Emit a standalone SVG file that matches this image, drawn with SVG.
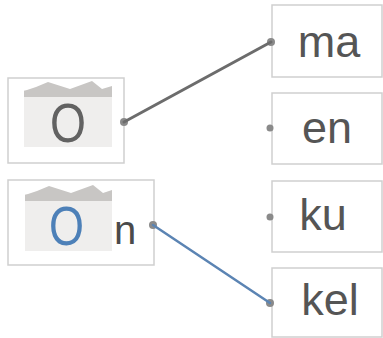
<svg xmlns="http://www.w3.org/2000/svg" width="383" height="338" viewBox="0 0 383 338">
<style>
.box{fill:#fff;stroke:#cfcfcf;stroke-width:1.5}
.shade{fill:#efeeed}
.band{fill:#c8c6c4}
.lbl{font-family:"Liberation Sans","DejaVu Sans",sans-serif;fill:#555;font-size:45px;text-anchor:middle}
.big{font-family:"Liberation Sans","DejaVu Sans",sans-serif;font-size:56px}
.dot{fill:#8a8a8a}
</style>
<rect width="383" height="338" fill="#fff"/>
<g id="left1">
<rect class="box" x="8" y="78" width="116" height="85"/>
<rect class="shade" x="24" y="90" width="88" height="57"/>
<path class="band" d="M24,91 L36,87 L48,82 L70,89 L92,81 L102,89 L112,86 L112,97 L24,97 Z"/>
<text class="big" x="50" y="142" fill="#626262" textLength="36" lengthAdjust="spacingAndGlyphs">O</text>
<circle class="dot" cx="124" cy="122" r="4"/>
</g>
<g id="left2">
<rect class="box" x="8" y="180" width="146" height="85"/>
<rect class="shade" x="25" y="194" width="87" height="57"/>
<path class="band" d="M25,195 L37,191 L49,186 L71,193 L93,185 L103,193 L112,190 L112,201 L25,201 Z"/>
<text class="big" x="49" y="245" fill="#4d80b8" textLength="35" lengthAdjust="spacingAndGlyphs">O</text>
<text class="lbl" x="125" y="244" style="font-size:40px;fill:#4a4a4a">n</text>
<circle class="dot" cx="153" cy="225" r="4"/>
</g>
<g id="right1">
<rect class="box" x="272" y="5" width="110" height="72"/>
<text class="lbl" x="329" y="57">ma</text>
<circle class="dot" cx="271" cy="42" r="4"/>
</g>
<g id="right2">
<rect class="box" x="272" y="93" width="110" height="71"/>
<text class="lbl" x="327" y="143">en</text>
<circle class="dot" cx="270" cy="128" r="3.5"/>
</g>
<g id="right3">
<rect class="box" x="272" y="181" width="110" height="71"/>
<text class="lbl" x="323" y="230">ku</text>
<circle class="dot" cx="270" cy="217" r="3.5"/>
</g>
<g id="right4">
<rect class="box" x="272" y="268" width="110" height="69"/>
<text class="lbl" x="330" y="315">kel</text>
<circle class="dot" cx="270" cy="303" r="4"/>
</g>
<g id="connectors" fill="none" stroke-linecap="round">
<line x1="124" y1="122" x2="271" y2="42" stroke="#6c6c6c" stroke-width="3"/>
<line x1="153" y1="225" x2="270" y2="303" stroke="#5b84b3" stroke-width="2.5"/>
</g>
</svg>
